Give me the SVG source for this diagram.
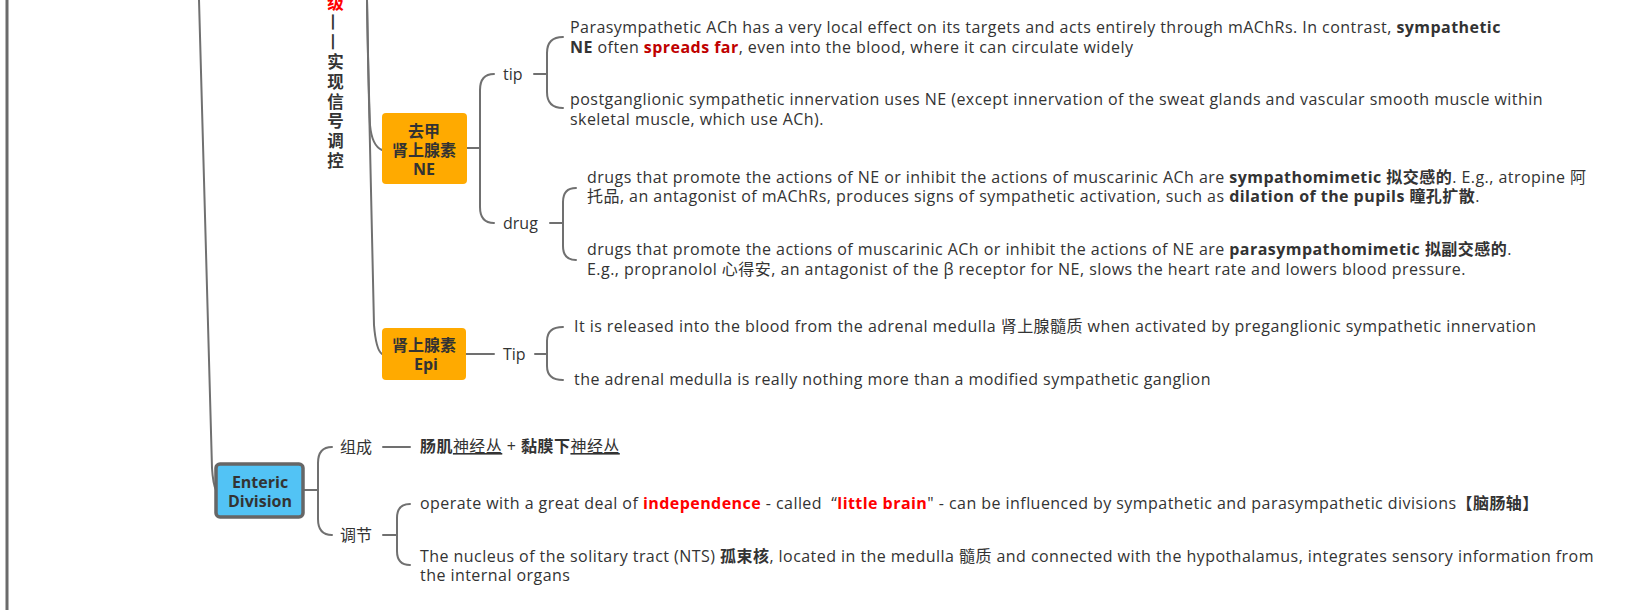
<svg xmlns="http://www.w3.org/2000/svg" width="1643" height="610" viewBox="0 0 1643 610">
<style>
.t{font-family:"Open Sans","Noto Sans CJK SC",sans-serif;font-size:16px;letter-spacing:0.45px;fill:#333}
.lb{font-family:"Open Sans","Noto Sans CJK SC",sans-serif;font-size:16px;fill:#333}
.bx{font-family:"Open Sans","Noto Sans CJK SC",sans-serif;font-size:16px;font-weight:bold;fill:#333;text-anchor:middle}
.b{font-weight:bold}
.r{fill:#ff0000;font-weight:bold}
.dr{fill:#c00000;font-weight:bold}
.c{fill:none;stroke:#707070;stroke-width:2;stroke-linecap:round}
.ne{fill:#ffaa00}
</style>
<rect width="1643" height="610" fill="#ffffff"/>
<g id="connectors">
<line x1="7" y1="0" x2="7" y2="610" stroke="#6b6b6b" stroke-width="3"/>
<path class="c" d="M199,0 L212,468 Q213,484 216,490"/>
<path class="c" d="M367,0 C368,60 369,100 370,125 Q372,146 382,150"/>
<path class="c" d="M367,0 C369,120 372,250 374,325 Q376,350 382,354"/>
<path class="c" d="M466,148 L480,148 M494,74 Q480,74 480,90 L480,207 Q480,223 494,223"/>
<path class="c" d="M534,74 L547,74 M563,37 Q547,37 547,53 L547,92 Q547,108 563,108"/>
<path class="c" d="M550,223 L563,223 M576,188 Q563,188 563,202 L563,246 Q563,260 576,260"/>
<path class="c" d="M466,354 L494,354 M535,354 L547,354 M563,327 Q547,327 547,341 L547,366 Q547,380 563,380"/>
<path class="c" d="M303,490 L318,490 M332,447 Q318,447 318,463 L318,519 Q318,535 332,535"/>
<path class="c" d="M383,447 L410,447"/>
<path class="c" d="M383,535 L397,535 M410,504 Q397,504 397,518 L397,551 Q397,565 410,565"/>
</g>
<g id="node-title">
<text x="335" y="-6" writing-mode="vertical-rl" class="bx" style="font-size:16.5px;letter-spacing:3.3px;text-anchor:start"><tspan class="r">级</tspan>——实现信号调控</text>
</g>
<g id="node-ne">
<rect x="382" y="113" width="85" height="71" rx="4" class="ne"/>
<text class="bx" x="424" y="137">去甲</text>
<text class="bx" x="424" y="156">肾上腺素</text>
<text class="bx" x="424" y="175">NE</text>
</g>
<g id="node-tip">
<text class="lb" x="503" y="80">tip</text>
</g>
<g id="node-tip-1">
<text class="t" x="570" y="33">Parasympathetic ACh has a very local effect on its targets and acts entirely through mAChRs. In contrast, <tspan class="b">sympathetic</tspan></text>
<text class="t" x="570" y="53"><tspan class="b">NE</tspan> often <tspan class="dr">spreads far</tspan>, even into the blood, where it can circulate widely</text>
</g>
<g id="node-tip-2">
<text class="t" x="570" y="105">postganglionic sympathetic innervation uses NE (except innervation of the sweat glands and vascular smooth muscle within</text>
<text class="t" x="570" y="125">skeletal muscle, which use ACh).</text>
</g>
<g id="node-drug">
<text class="lb" x="503" y="229">drug</text>
</g>
<g id="node-drug-1">
<text class="t" x="587" y="183">drugs that promote the actions of NE or inhibit the actions of muscarinic ACh are <tspan class="b">sympathomimetic 拟交感的</tspan>. E.g., atropine 阿</text>
<text class="t" x="587" y="202">托品, an antagonist of mAChRs, produces signs of sympathetic activation, such as <tspan class="b">dilation of the pupils 瞳孔扩散</tspan>.</text>
</g>
<g id="node-drug-2">
<text class="t" x="587" y="255">drugs that promote the actions of muscarinic ACh or inhibit the actions of NE are <tspan class="b">parasympathomimetic 拟副交感的</tspan>.</text>
<text class="t" x="587" y="275">E.g., propranolol 心得安, an antagonist of the β receptor for NE, slows the heart rate and lowers blood pressure.</text>
</g>
<g id="node-epi">
<rect x="382" y="328" width="84" height="52" rx="4" class="ne"/>
<text class="bx" x="424" y="351">肾上腺素</text>
<text class="bx" x="426" y="370">Epi</text>
</g>
<g id="node-Tip">
<text class="lb" x="503" y="360">Tip</text>
</g>
<g id="node-Tip-1">
<text class="t" x="574" y="332">It is released into the blood from the adrenal medulla 肾上腺髓质 when activated by preganglionic sympathetic innervation</text>
</g>
<g id="node-Tip-2">
<text class="t" x="574" y="385">the adrenal medulla is really nothing more than a modified sympathetic ganglion</text>
</g>
<g id="node-enteric">
<rect x="216" y="464" width="87" height="53" rx="4" fill="#52c3f5" stroke="#666" stroke-width="3.5"/>
<text class="bx" x="260" y="488">Enteric</text>
<text class="bx" x="260" y="507">Division</text>
</g>
<g id="node-zucheng">
<text class="lb" x="340" y="453">组成</text>
</g>
<g id="node-zucheng-1">
<text class="t" x="420" y="452"><tspan class="b">肠肌</tspan><tspan text-decoration="underline">神经丛</tspan> + <tspan class="b">黏膜下</tspan><tspan text-decoration="underline">神经丛</tspan></text>
</g>
<g id="node-tiaojie">
<text class="lb" x="340" y="541">调节</text>
</g>
<g id="node-tiaojie-1">
<text class="t" x="420" y="509">operate with a great deal of <tspan class="r">independence</tspan> - called &#160;“<tspan class="r">little brain</tspan>" - can be influenced by sympathetic and parasympathetic divisions<tspan class="b">【脑肠轴】</tspan></text>
</g>
<g id="node-tiaojie-2">
<text class="t" x="420" y="562">The nucleus of the solitary tract (NTS) <tspan class="b">孤束核</tspan>, located in the medulla 髓质 and connected with the hypothalamus, integrates sensory information from</text>
<text class="t" x="420" y="581">the internal organs</text>
</g>
</svg>
